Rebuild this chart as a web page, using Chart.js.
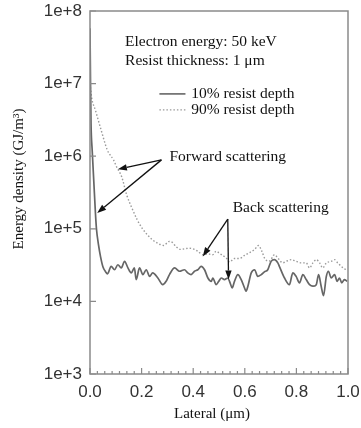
<!DOCTYPE html>
<html>
<head>
<meta charset="utf-8">
<script src="https://cdn.jsdelivr.net/npm/chart.js@4.4.1/dist/chart.umd.min.js"></script>
<style>
  html, body { margin: 0; padding: 0; background: #fff; }
  #wrap { width: 361px; height: 428px; }
</style>
</head>
<body>
<div id="wrap"><canvas id="energyChart" width="361" height="428"></canvas></div>
<script>
// Lateral position (um) and energy density (GJ/m^3)
const solidX = [0, 0.002, 0.004, 0.0085, 0.021, 0.025, 0.033, 0.041, 0.05, 0.06, 0.068,
  0.082, 0.095, 0.108, 0.121, 0.134, 0.147, 0.16, 0.172, 0.179, 0.192, 0.205, 0.218, 0.231,
  0.243, 0.263, 0.282, 0.295, 0.308, 0.328, 0.347, 0.366, 0.379, 0.392, 0.405, 0.418, 0.431,
  0.444, 0.457, 0.47, 0.476, 0.489, 0.499, 0.509, 0.521, 0.534, 0.543, 0.551, 0.56, 0.573,
  0.586, 0.599, 0.605, 0.612, 0.625, 0.638, 0.65, 0.664, 0.676, 0.689, 0.702, 0.715, 0.728,
  0.734, 0.754, 0.773, 0.786, 0.799, 0.812, 0.825, 0.838, 0.851, 0.864, 0.877, 0.886, 0.896,
  0.905, 0.916, 0.924, 0.935, 0.948, 0.958, 0.967, 0.976, 0.986, 0.997];
const solidY = [5.8e7, 1.0e7, 2.8e6, 1.2e6, 1.66e5, 1.0e5, 6.0e4, 4.1e4, 3.0e4, 2.57e4, 2.4e4,
  3.04e4, 2.73e4, 3.2e4, 2.89e4, 3.56e4, 2.89e4, 2.47e4, 2.89e4, 2.0e4, 2.89e4, 2.34e4, 2.73e4, 2.21e4,
  2.47e4, 2.1e4, 1.7e4, 1.89e4, 2.34e4, 2.89e4, 2.6e4, 2.73e4, 2.47e4, 2.34e4, 2.6e4, 2.73e4, 3.04e4,
  2.73e4, 2.1e4, 1.89e4, 2.1e4, 1.7e4, 1.89e4, 2.1e4, 2.0e4, 2.1e4, 1.8e4, 1.53e4, 1.89e4, 2.34e4,
  2.0e4, 1.53e4, 1.38e4, 1.62e4, 2.47e4, 2.73e4, 2.21e4, 2.34e4, 2.55e4, 2.73e4, 3.56e4, 3.76e4, 3.39e4,
  3.04e4, 2.1e4, 1.7e4, 2.47e4, 2.21e4, 1.8e4, 2.34e4, 2.0e4, 1.7e4, 1.62e4, 1.7e4, 2.34e4, 1.62e4,
  1.2e4, 2.21e4, 2.6e4, 2.1e4, 2.34e4, 1.89e4, 2.1e4, 1.8e4, 2.0e4, 1.89e4];

const dottedX = [0, 0.006, 0.021, 0.043, 0.067, 0.091, 0.105, 0.123, 0.142, 0.162, 0.183,
  0.202, 0.222, 0.241, 0.26, 0.285, 0.307, 0.319, 0.333, 0.351, 0.366, 0.386, 0.405, 0.418,
  0.437, 0.457, 0.476, 0.489, 0.502, 0.51, 0.528, 0.541, 0.56, 0.579, 0.599, 0.618, 0.638,
  0.653, 0.665, 0.68, 0.696, 0.715, 0.728, 0.747, 0.76, 0.78, 0.799, 0.819, 0.838, 0.851,
  0.864, 0.877, 0.89, 0.902, 0.916, 0.935, 0.948, 0.96, 0.974, 0.986, 0.998];
const dottedY = [1.0e7, 6.5e6, 4.3e6, 2.3e6, 1.22e6, 8.9e5, 6.9e5, 5.2e5, 2.94e5, 1.95e5, 1.33e5,
  1.02e5, 8.3e4, 7.1e4, 6.4e4, 5.9e4, 6.7e4, 6.5e4, 5.7e4, 5.2e4, 5.3e4, 5.4e4, 5.2e4, 4.9e4,
  4.4e4, 4.5e4, 4.4e4, 4.9e4, 4.6e4, 4.4e4, 3.96e4, 3.5e4, 3.9e4, 3.9e4, 4.3e4, 4.7e4, 5.2e4,
  5.9e4, 5.0e4, 3.76e4, 3.6e4, 4.4e4, 3.96e4, 3.4e4, 3.56e4, 3.76e4, 3.56e4, 3.39e4, 3.39e4, 2.89e4,
  3.39e4, 3.76e4, 3.39e4, 2.89e4, 3.39e4, 3.56e4, 3.76e4, 3.39e4, 3.04e4, 2.8e4, 2.73e4];

const seriesNames = ['10% resist depth', '90% resist depth'];
const yTicks = [1e3, 1e4, 1e5, 1e6, 1e7, 1e8];
const xTicks = [0, 0.2, 0.4, 0.6, 0.8, 1.0];

const serif = '"Liberation Serif", "Times New Roman", serif';
const sans = '"Liberation Sans", Arial, sans-serif';

function toPoints(xs, ys) {
  return xs.map((x, i) => ({ x: x, y: ys[i] }));
}

function arrow(ctx, x1, y1, x2, y2) {
  const ang = Math.atan2(y2 - y1, x2 - x1);
  const len = 9, half = 3.2;
  const bx = x2 - len * Math.cos(ang), by = y2 - len * Math.sin(ang);
  ctx.beginPath();
  ctx.moveTo(x1, y1);
  ctx.lineTo(bx, by);
  ctx.stroke();
  ctx.beginPath();
  ctx.moveTo(x2, y2);
  ctx.lineTo(bx - half * Math.sin(ang), by + half * Math.cos(ang));
  ctx.lineTo(bx + half * Math.sin(ang), by - half * Math.cos(ang));
  ctx.closePath();
  ctx.fill();
}

// frame, inside ticks, legend, notes and arrows
const overlay = {
  id: 'overlay',
  afterDraw(chart) {
    const { ctx, chartArea: a, scales: { x, y } } = chart;
    ctx.save();

    // frame
    ctx.strokeStyle = '#8a8a8a';
    ctx.lineWidth = 1.5;
    ctx.strokeRect(a.left, a.top, a.right - a.left, a.bottom - a.top);

    // ticks pointing into the plot
    ctx.lineWidth = 1.2;
    ctx.beginPath();
    yTicks.forEach(v => {
      const py = y.getPixelForValue(v);
      ctx.moveTo(a.left, py);
      ctx.lineTo(a.left + 6, py);
    });
    for (let i = 0; i <= 35; i++) {
      const px = x.getPixelForValue(i / 35);
      const major = i % 7 === 0;
      ctx.moveTo(px, a.bottom);
      ctx.lineTo(px, a.bottom - (major ? 6 : 3));
    }
    ctx.stroke();

    // axis titles
    ctx.fillStyle = '#111';
    ctx.font = '15px ' + serif;
    ctx.textAlign = 'center';
    ctx.textBaseline = 'middle';
    ctx.fillText('Lateral (\u03bcm)', 212, 414);
    ctx.save();
    ctx.translate(19, 179);
    ctx.rotate(-Math.PI / 2);
    ctx.fillText('Energy density (GJ/m\u00b3)', 0, 0);
    ctx.restore();

    // notes
    ctx.font = '15.5px ' + serif;
    ctx.textAlign = 'left';
    const nx = x.getPixelForValue(0.136);
    ctx.fillText('Electron energy: 50 keV', nx, y.getPixelForValue(Math.pow(10, 7.574)));
    ctx.fillText('Resist thickness: 1 \u03bcm', nx, y.getPixelForValue(Math.pow(10, 7.308)));

    // legend
    const lx1 = x.getPixelForValue(0.269), lx2 = x.getPixelForValue(0.37);
    const tx = x.getPixelForValue(0.392);
    const ly1 = y.getPixelForValue(Math.pow(10, 6.858));
    const ly2 = y.getPixelForValue(Math.pow(10, 6.638));
    ctx.strokeStyle = '#666';
    ctx.lineWidth = 1.6;
    ctx.beginPath(); ctx.moveTo(lx1, ly1); ctx.lineTo(lx2, ly1); ctx.stroke();
    ctx.strokeStyle = '#9a9a9a';
    ctx.lineWidth = 1.4;
    ctx.setLineDash([1.5, 2]);
    ctx.beginPath(); ctx.moveTo(lx1, ly2); ctx.lineTo(lx2, ly2); ctx.stroke();
    ctx.setLineDash([]);
    ctx.fillText(seriesNames[0], tx, ly1);
    ctx.fillText(seriesNames[1], tx, ly2);

    // annotations
    ctx.fillText('Forward scattering', x.getPixelForValue(0.308), y.getPixelForValue(Math.pow(10, 5.996)));
    ctx.fillText('Back scattering', x.getPixelForValue(0.553), y.getPixelForValue(Math.pow(10, 5.286)));

    ctx.strokeStyle = '#111';
    ctx.lineWidth = 1.3;
    const P = (vx, vy) => [x.getPixelForValue(vx), y.getPixelForValue(vy)];
    const ft = P(0.277, 8.9e5);
    arrow(ctx, ...ft, ...P(0.108, 6.6e5));
    arrow(ctx, ...ft, ...P(0.028, 1.65e5));
    const bt = P(0.534, 1.36e5);
    arrow(ctx, ...bt, ...P(0.437, 4.17e4));
    arrow(ctx, ...bt, ...P(0.537, 2.0e4));

    ctx.restore();
  }
};

const ctx = document.getElementById('energyChart').getContext('2d');
new Chart(ctx, {
  type: 'line',
  data: {
    datasets: [{
      label: seriesNames[0],
      data: toPoints(solidX, solidY),
      borderColor: '#666',
      borderWidth: 1.7,
      pointRadius: 0,
      cubicInterpolationMode: 'monotone',
      fill: false
    }, {
      label: seriesNames[1],
      data: toPoints(dottedX, dottedY),
      borderColor: '#9a9a9a',
      borderWidth: 1.4,
      borderDash: [1.5, 2],
      pointRadius: 0,
      cubicInterpolationMode: 'monotone',
      fill: false
    }]
  },
  options: {
    responsive: false,
    animation: false,
    layout: { padding: { top: 11, right: 13, left: 0, bottom: 0 } },
    plugins: { legend: { display: false }, tooltip: { enabled: false } },
    scales: {
      x: {
        type: 'linear',
        min: 0,
        max: 1,
        grid: { display: false, drawTicks: false },
        border: { display: false },
        afterBuildTicks: s => { s.ticks = xTicks.map(v => ({ value: v })); },
        afterFit: s => { s.height = 54; s.paddingLeft = 0; s.paddingRight = 0; },
        ticks: {
          padding: 8,
          maxRotation: 0,
          color: '#333',
          font: { family: sans, size: 17 },
          callback: v => Number(v).toFixed(1)
        }
      },
      y: {
        type: 'logarithmic',
        min: 1e3,
        max: 1e8,
        grid: { display: false, drawTicks: false },
        border: { display: false },
        afterBuildTicks: s => { s.ticks = yTicks.map(v => ({ value: v })); },
        afterFit: s => { s.width = 90; s.paddingTop = 0; s.paddingBottom = 0; },
        ticks: {
          padding: 8,
          color: '#333',
          font: { family: sans, size: 17 },
          callback: v => '1e+' + Math.round(Math.log10(v))
        }
      }
    }
  },
  plugins: [overlay]
});
</script>
</body>
</html>
